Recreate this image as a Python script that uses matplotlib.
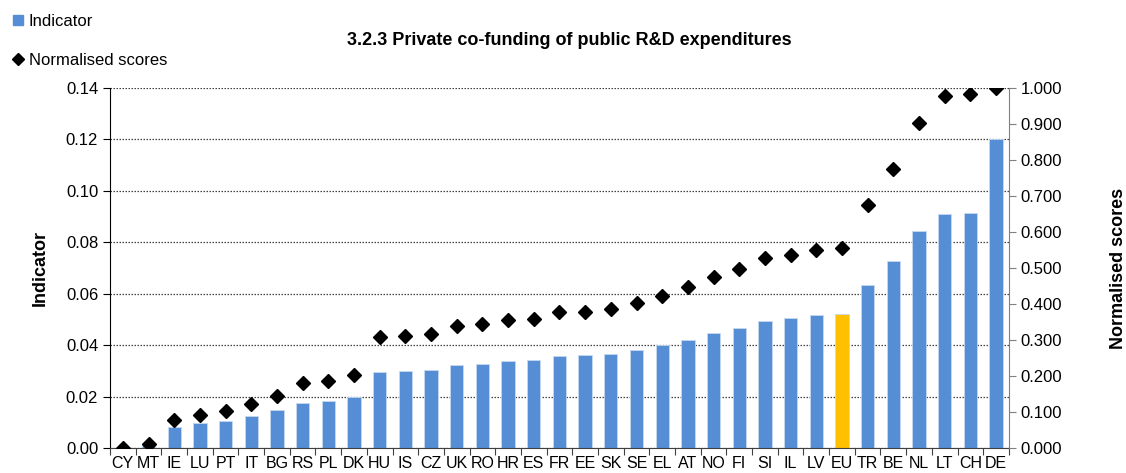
import matplotlib
matplotlib.use("Agg")
import matplotlib.pyplot as plt
from matplotlib.lines import Line2D
from matplotlib.ticker import FormatStrFormatter, MultipleLocator

plt.rcParams['font.family'] = ['Liberation Sans', 'DejaVu Sans']

countries = ["CY", "MT", "IE", "LU", "PT", "IT", "BG", "RS", "PL", "DK", "HU", "IS",
             "CZ", "UK", "RO", "HR", "ES", "FR", "EE", "SK", "SE", "EL", "AT", "NO",
             "FI", "SI", "IL", "LV", "EU", "TR", "BE", "NL", "LT", "CH", "DE"]

indicator = [0.0000, 0.0010, 0.0083, 0.0097, 0.0105, 0.0124, 0.0147, 0.0176, 0.0184,
             0.0198, 0.0296, 0.0298, 0.0302, 0.0323, 0.0327, 0.0338, 0.0342, 0.0357,
             0.0360, 0.0366, 0.0380, 0.0401, 0.0421, 0.0447, 0.0467, 0.0495, 0.0504,
             0.0517, 0.0521, 0.0634, 0.0726, 0.0843, 0.0910, 0.0914, 0.1203]

normalised = [0.000, 0.011, 0.078, 0.092, 0.103, 0.122, 0.145, 0.180, 0.187, 0.203,
              0.309, 0.311, 0.317, 0.339, 0.344, 0.356, 0.358, 0.377, 0.379, 0.385,
              0.402, 0.423, 0.446, 0.475, 0.497, 0.528, 0.536, 0.549, 0.555, 0.676,
              0.776, 0.904, 0.978, 0.982, 1.000]

highlight = "EU"
bar_blue = "#558ED5"
bar_gold = "#FFC000"

fig = plt.figure(figsize=(11.26, 4.73), dpi=100)
ax = fig.add_axes([0.0977, 0.053, 0.7983, 0.761])
ax2 = ax.twinx()

x = list(range(len(countries)))
colors = [bar_gold if c == highlight else bar_blue for c in countries]
ax.bar(x, indicator, width=0.52, color=colors, edgecolor="#C6D9F1", linewidth=0.6, zorder=2)

ax2.plot(x, normalised, linestyle="none", marker="D", markersize=7.2,
         color="black", zorder=3)

ax.set_xlim(-0.5, len(countries) - 0.5)
ax.set_ylim(0, 0.14)
ax2.set_ylim(0, 1.0)
ax.yaxis.set_major_locator(MultipleLocator(0.02))
ax.yaxis.set_major_formatter(FormatStrFormatter("%.2f"))
ax2.yaxis.set_major_locator(MultipleLocator(0.1))
ax2.yaxis.set_major_formatter(FormatStrFormatter("%.3f"))

ax.grid(axis="y", linestyle=(0, (1.2, 1.2)), color="#404040", linewidth=0.9, zorder=0)
ax.set_axisbelow(True)

# category ticks sit between the bars, labels at bar centres
ax.set_xticks([i - 0.5 for i in range(len(countries) + 1)])
ax.set_xticklabels([])
ax.set_xticks(x, minor=True)
ax.set_xticklabels(countries, minor=True, fontsize=11.5)
ax.tick_params(axis="x", which="minor", length=0, pad=6)
ax.tick_params(axis="x", which="major", length=5, direction="out", color="#404040")
ax.tick_params(axis="y", labelsize=12, length=5, direction="out")
ax2.tick_params(axis="y", labelsize=12, length=5, direction="out", color="#808080")

ax.spines["top"].set_visible(False)
ax2.spines["top"].set_visible(False)
ax2.spines["left"].set_visible(False)
ax2.spines["bottom"].set_visible(False)
ax2.spines["right"].set_color("#808080")
ax.spines["right"].set_visible(False)
ax.spines["left"].set_color("black")
ax.spines["bottom"].set_color("#404040")

ax.set_ylabel("Indicator", fontsize=13, fontweight="bold", labelpad=12)
ax2.set_ylabel("Normalised scores", fontsize=13, fontweight="bold", labelpad=34)

fig.text(0.506, 0.915, "3.2.3 Private co-funding of public R&D expenditures",
         ha="center", va="center", fontsize=13, fontweight="bold")

handles = [
    Line2D([], [], linestyle="none", marker="s", markersize=7, color=bar_blue),
    Line2D([], [], linestyle="none", marker="D", markersize=6, color="black"),
]
fig.legend(handles, ["Indicator", "Normalised scores"], loc="upper left",
           bbox_to_anchor=(0.005, 0.985), frameon=False, fontsize=12,
           handlelength=0.7, handletextpad=0.3, labelspacing=1.45, borderaxespad=0.0)

fig.savefig("out.png", dpi=100)
